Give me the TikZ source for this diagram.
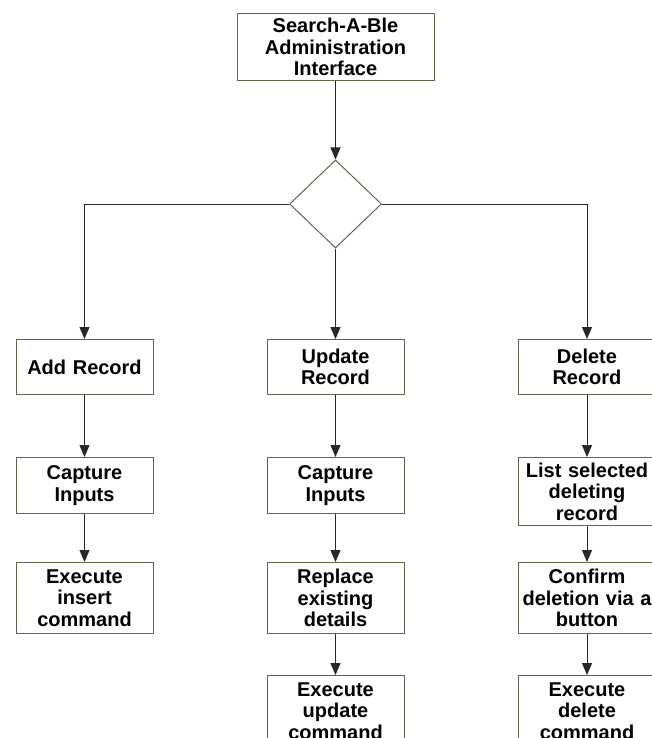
\documentclass[tikz,border=0pt]{standalone}
\usepackage{fontspec}
\setmainfont{Liberation Sans}
\usetikzlibrary{arrows.meta,shapes.geometric}
\definecolor{boxline}{RGB}{100,100,80}
\definecolor{arrowline}{RGB}{40,40,40}

\begin{document}
\begin{tikzpicture}[x=1pt,y=-1pt,
    stepbox/.style={draw=boxline,line width=1pt,fill=white,anchor=north,
        minimum width=137pt,text width=137pt,inner xsep=0pt,inner ysep=2pt,
        align=center,font=\fontsize{20}{21.5}\selectfont\bfseries},
    decision/.style={diamond,draw=boxline,line width=1pt,inner sep=0pt,
        minimum width=92pt,minimum height=88pt},
    flow/.style={draw=arrowline,line width=1pt,-{Triangle[length=12pt,width=10pt]}}]
    \useasboundingbox (0,0) rectangle (652,738);
    \clip (0,0) rectangle (652,738);

    \node[stepbox,minimum width=197pt,text width=197pt,minimum height=67pt] (admin) at (335.5,13) {Search-A-Ble\\Administration\\Interface};
    \node[decision] (choice) at (335.5,204) {};

    % add column
    \node[stepbox,minimum height=55pt] (add) at (84.5,339) {Add Record};
    \node[stepbox,minimum height=56pt] (addinput) at (84.5,457) {Capture\\Inputs};
    \node[stepbox,minimum height=71pt] (addexec) at (84.5,562) {Execute\\insert\\command};

    % update column
    \node[stepbox,minimum height=55pt] (update) at (335.5,339) {Update\\Record};
    \node[stepbox,minimum height=56pt] (updinput) at (335.5,457) {Capture\\Inputs};
    \node[stepbox,minimum height=71pt] (updreplace) at (335.5,562) {Replace\\existing\\details};
    \node[stepbox,minimum height=71pt] (updexec) at (335.5,675) {Execute\\update\\command};

    % delete column
    \node[stepbox,minimum height=55pt] (delete) at (587,339) {Delete\\Record};
    \node[stepbox,minimum height=68pt] (dellist) at (587,457) {List selected\\deleting\\record};
    \node[stepbox,minimum height=71pt] (delconfirm) at (587,562) {Confirm\\deletion via a\\button};
    \node[stepbox,minimum height=71pt] (delexec) at (587,675) {Execute\\delete\\command};

    \draw[flow] (admin) -- (choice);
    \draw[flow] (choice.west) -| (add.north);
    \draw[flow] (choice) -- (update);
    \draw[flow] (choice.east) -| (delete.north);
    \draw[flow] (add) -- (addinput);
    \draw[flow] (addinput) -- (addexec);
    \draw[flow] (update) -- (updinput);
    \draw[flow] (updinput) -- (updreplace);
    \draw[flow] (updreplace) -- (updexec);
    \draw[flow] (delete) -- (dellist);
    \draw[flow] (dellist) -- (delconfirm);
    \draw[flow] (delconfirm) -- (delexec);
\end{tikzpicture}
\end{document}
